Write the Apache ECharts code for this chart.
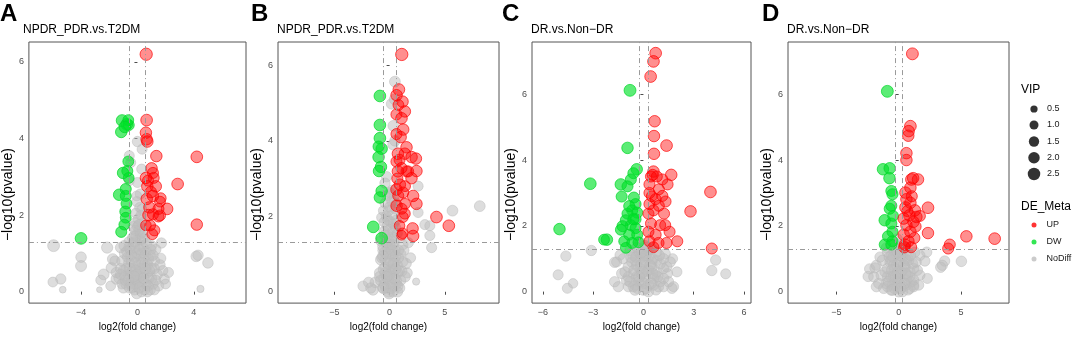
<!DOCTYPE html>
<html>
<head>
<meta charset="utf-8">
<script src="https://cdn.jsdelivr.net/npm/echarts@6/dist/echarts.min.js"></script>
<style>
html, body { margin: 0; padding: 0; background: #fff; }
#chart { width: 1072px; height: 337px; }
</style>
</head>
<body>
<div id="chart"></div>
<script>
// points are [log2FC, -log10(p), VIP]
const upA = [[0.62,6.2,2.4],[0.65,4.48,2.1],[0.6,4.15,2.0],[0.65,3.98,2.0],[0.7,3.92,2.0],[1.34,3.54,2.0],[4.21,3.52,2.1],[2.85,2.81,2.1],[4.21,1.75,2.0],
  [1.0,3.22,2.0],[1.1,3.1,1.8],[0.6,2.97,2.0],[1.15,2.97,1.8],[1.3,2.75,2.0],[0.7,2.75,2.0],[1.1,2.5,2.0],[0.66,2.42,2.0],[1.65,2.44,1.7],
  [0.85,2.2,2.0],[2.1,2.16,2.1],[1.49,2.16,1.8],[1.6,1.99,1.8],[0.78,2.0,2.0],[1.1,2.02,1.8],[1.49,1.96,1.7],[1.2,1.6,1.8],[1.05,1.5,1.7],
  [0.6,1.73,1.6],[0.9,1.73,1.7],[1.6,2.35,1.7],[0.95,2.6,2.0],[0.75,2.9,1.8]];
const dwA = [[-1.09,4.47,2.1],[-0.76,4.37,2.1],[-0.62,4.35,1.8],[-1.15,4.17,2.0],[-0.65,4.48,1.7],[-0.9,4.3,2.0],[-0.65,3.4,1.7],[-0.72,3.15,1.8],
  [-1.02,3.1,2.0],[-0.62,2.97,1.7],[-0.83,2.68,1.8],[-1.3,2.53,2.0],[-0.83,2.5,1.8],[-0.78,2.3,1.7],[-0.86,2.09,1.8],[-0.83,1.93,1.7],
  [-0.93,1.75,1.7],[-1.15,1.56,1.8],[-4.0,1.39,2.1]];
const nsA = [[0,3.92,1.5],[0.33,3.72,1.4],[-0.58,3.55,1.4],[-0.48,3.37,1.4],[0.3,3.2,1.4],[-0.58,2.9,1.4],[0,2.85,1.4],[0.2,2.55,1.4],
  [-0.05,2.35,1.4],[0.3,2.15,1.4],[-0.15,1.8,1.4],[0.15,1.62,1.4],[-0.25,1.45,1.4],[0.35,1.37,1.4],
  [-5.95,1.2,2.2],[-4.0,0.9,1.6],[-4.0,0.67,1.8],[-2.15,1.15,1.9],[-2.4,0.45,1.7],[-2.6,0.3,1.4],[-5.44,0.33,1.5],[-6.0,0.25,1.3],
  [-5.3,0.05,0.4],[-2.7,0.05,0.2],[-1.75,0.85,1.7],[-1.85,0.62,1.6],[-1.5,0.33,1.6],[1.7,1.27,1.5],[1.65,0.87,1.5],[1.9,0.33,1.5],
  [2.2,0.5,1.4],[4.17,0.92,1.6],[4.3,0.95,1.5],[5.0,0.75,1.6],[4.47,0.07,0.5],
  [-0.3,1.25,1.6],[0.2,1.2,1.6],[-0.5,1.1,1.7],[0.6,1.05,1.6],[-0.9,1.0,1.7],[0.9,0.95,1.6],[0,1.0,1.7],[-0.2,0.9,1.6],[0.4,0.85,1.7],
  [-1.1,0.8,1.6],[1.2,0.8,1.6],[-0.6,0.75,1.7],[0.7,0.7,1.7],[0.1,0.7,1.7],[-0.3,0.6,1.6],[1.0,0.6,1.6],[-1.0,0.55,1.6],[0.4,0.5,1.7],
  [-0.6,0.45,1.7],[1.4,0.45,1.6],[0,0.4,1.7],[-1.3,0.35,1.6],[0.8,0.35,1.7],[-0.4,0.3,1.7],[0.3,0.25,1.7],[1.1,0.2,1.6],[-0.8,0.2,1.7],
  [0,0.15,1.7],[-0.2,0.05,1.7],[0.5,0.05,1.7],[-1.0,0.1,1.6],[0.9,0.05,1.6],[1.5,0.15,1.5],[-1.5,0.5,1.5],[1.6,0.7,1.5],[-0.1,1.45,1.5],
  [0.1,1.6,1.5],[0.05,1.9,1.4],[-0.1,2.05,1.4],[0.2,1.35,1.5],[-0.6,1.3,1.5],[0.5,1.4,1.4],[-0.3,1.7,1.4],[0.3,1.8,1.4],[-0.8,0.6,1.6],
  [1.3,1.1,1.5],[-1.2,1.15,1.5],[0.2,0.4,1.7],[-0.2,0.2,1.7],
  [-0.5,0.2,1.5],[0.6,0.2,1.5],[-0.1,0.3,1.6],[0.7,0.5,1.6],[-0.9,0.4,1.5],[1.2,0.6,1.5],[-0.4,0.5,1.6],[0.2,0.6,1.6],[-0.7,0.9,1.5],
  [0.5,0.7,1.6],[0.3,1.0,1.6],[-0.4,0.8,1.6],[0.8,0.85,1.5],[-0.1,0.55,1.7],[1.0,0.35,1.5],[-1.2,0.6,1.5],[0.1,0.95,1.6],[-0.6,1.15,1.5],
  [0.4,1.15,1.5],[1.0,1.2,1.4],[-0.2,1.15,1.6],[0.05,0.25,1.7],[-0.35,0.1,1.6],[0.3,0.0,1.6],[0.75,0.15,1.5],[-0.65,0.3,1.6],[1.3,0.3,1.4],
  [-1.1,0.2,1.4],[0.2,1.5,1.4],[-0.2,1.3,1.5],[0.0,1.7,1.4],[0.15,2.2,1.3],[-0.05,2.5,1.3],[0.25,2.0,1.3],[1.8,0.55,1.4],[-1.6,0.8,1.4],
  [2.0,0.2,1.3],[-1.9,0.15,1.3],
  [-0.75,1.05,1.6],[0.15,1.1,1.6],[0.55,0.95,1.6],[-0.45,0.95,1.6],[0.95,1.1,1.5],[-0.15,0.75,1.7],[0.35,0.75,1.7],[-0.55,0.6,1.7],
  [0.85,0.55,1.6],[-0.05,0.45,1.7],[0.55,0.6,1.7],[-0.85,0.3,1.6],[0.45,0.35,1.7],[-0.25,0.4,1.7],[0.15,0.1,1.7],[-0.55,0.1,1.7],
  [0.7,0.0,1.6],[-0.05,-0.05,1.6],[1.2,0.05,1.5],[-1.2,0.45,1.5],[1.1,0.95,1.5],[-0.95,1.2,1.5],[0.65,1.25,1.5],[-0.35,1.4,1.5],
  [0.35,1.55,1.4],[-0.15,1.6,1.4],[0.1,1.75,1.4]];

const upB = [[1.1,6.29,2.4],[0.84,5.36,2.1],[0.63,5.21,2.0],[1.17,5.04,2.0],[1.38,4.78,2.0],[0.62,4.7,1.8],[1.08,4.6,2.0],[1.23,4.3,2.0],
  [0.62,4.18,1.8],[1.0,4.1,2.0],[1.53,3.83,2.0],[1.99,3.57,2.0],[1.38,3.66,2.0],[0.75,3.66,2.0],[0.62,3.45,1.8],[2.38,3.53,2.0],
  [0.75,3.19,2.0],[1.08,3.28,1.8],[1.68,3.19,1.8],[2.43,3.2,2.0],[1.53,3.19,1.8],[1.98,3.01,2.0],[0.93,2.84,2.0],[0.62,2.71,2.0],
  [1.4,2.8,1.7],[1.23,2.63,1.8],[0.78,2.55,1.8],[2.13,2.54,2.0],[2.43,2.33,2.0],[0.63,2.28,2.0],[1.1,2.2,1.7],[1.4,2.33,1.7],
  [1.38,2.07,1.7],[4.24,1.98,2.1],[5.36,1.75,2.1],[2.08,1.68,2.0],[2.13,1.48,2.0],[1.08,1.5,1.3],[1.17,1.55,1.6],[1.2,1.98,1.7],
  [0.9,1.75,1.6],[0.7,3.0,1.8],[0.9,3.5,1.8],[0.8,4.95,1.7]];
const dwB = [[-0.88,5.19,2.1],[-0.88,4.42,2.1],[-0.88,4.07,2.1],[-0.72,3.79,2.0],[-1.0,3.85,1.8],[-1.0,3.57,2.0],[-0.78,3.31,2.0],
  [-0.96,3.2,2.0],[-0.72,2.67,2.0],[-0.88,2.5,2.0],[-1.48,1.72,2.1],[-0.72,1.42,2.1]];
const nsB = [[0.48,5.57,1.7],[0.18,4.98,1.6],[0.33,4.4,1.6],[0.48,4.0,1.6],[0.45,5.1,1.6],[0.3,3.9,1.5],[-0.27,3.05,1.5],[-0.42,2.88,1.5],
  [0.03,2.63,1.5],[2.58,2.8,1.4],[2.58,2.1,1.4],[3.19,1.78,1.4],[3.64,1.75,1.4],[3.64,1.49,1.4],[3.8,1.17,1.4],[5.69,2.15,1.7],
  [8.16,2.27,1.7],[-0.72,1.97,1.4],[-0.57,2.15,1.3],
  [-0.6,1.2,1.6],[0,1.25,1.6],[0.5,1.1,1.6],[-0.3,1.0,1.7],[0.3,0.95,1.7],[1.0,1.0,1.6],[-0.8,0.85,1.6],[0.1,0.8,1.7],[0.7,0.7,1.7],
  [-0.4,0.65,1.7],[0.3,0.55,1.7],[-0.9,0.5,1.6],[1.1,0.55,1.6],[0,0.4,1.7],[-0.5,0.35,1.7],[0.6,0.3,1.7],[-1.3,0.25,1.6],[0.2,0.15,1.7],
  [-0.6,0.1,1.7],[0.9,0.1,1.6],[-0.1,0,1.7],[-1.5,0.05,1.6],[1.4,0.4,1.6],[1.5,0.75,1.5],[-0.2,1.5,1.6],[0.3,1.6,1.6],[0.1,1.85,1.6],
  [-0.3,2.0,1.5],[0.5,2.2,1.5],[0.2,2.4,1.5],[-0.4,2.35,1.5],[0.1,2.6,1.5],[0.4,1.4,1.5],[-0.8,1.35,1.5],[1.2,1.25,1.5],[1.7,1.3,1.4],
  [1.9,0.9,1.4],[-2.4,0.15,1.5],[-1.9,0.25,1.5],[-1.7,0.1,1.5],[2.4,0.27,0.5],[-0.2,1.75,1.6],[0.6,1.9,1.4],[-0.5,1.6,1.5],
  [-0.5,0.2,1.5],[0.6,0.2,1.5],[-0.1,0.3,1.6],[0.7,0.5,1.6],[-0.9,0.4,1.5],[1.2,0.8,1.5],[-0.4,0.5,1.6],[0.2,0.6,1.6],[-0.7,0.9,1.5],
  [0.5,0.8,1.6],[0.3,1.1,1.6],[-0.4,0.85,1.6],[0.8,0.9,1.5],[-0.1,0.55,1.7],[1.0,0.3,1.5],[0.1,1.0,1.6],[-0.6,1.1,1.5],[0.4,1.3,1.5],
  [-0.2,1.2,1.6],[0.05,0.25,1.7],[-0.35,0.1,1.6],[0.3,0.0,1.6],[0.75,0.15,1.5],[0.2,1.45,1.5],[-0.1,1.35,1.5],[0.0,1.65,1.5],
  [0.35,1.8,1.5],[-0.15,1.9,1.5],[0.3,2.05,1.5],[0.0,2.25,1.4],[0.4,2.5,1.4],[-0.2,2.55,1.4],[0.7,1.55,1.4],[-0.5,1.85,1.4],
  [1.3,1.1,1.4],[1.6,0.5,1.4],
  [-0.45,1.05,1.6],[0.15,1.1,1.6],[0.55,0.95,1.6],[-0.6,0.95,1.6],[0.8,1.1,1.5],[-0.15,0.75,1.7],[0.35,0.75,1.7],[-0.55,0.6,1.7],
  [0.85,0.55,1.6],[-0.05,0.45,1.7],[0.55,0.6,1.7],[-0.8,0.3,1.6],[0.45,0.35,1.7],[-0.25,0.4,1.7],[0.15,0.1,1.7],[-0.55,0.1,1.7],
  [0.7,0.0,1.6],[-0.05,-0.05,1.6],[-0.3,1.3,1.5],[0.25,1.25,1.5],[-0.45,1.5,1.5],[0.55,1.7,1.4],[-0.1,2.15,1.4],[0.25,2.7,1.3],
  [0.6,2.35,1.3]];

const upC = [[0.73,7.25,2.1],[0.6,7.0,2.1],[0.43,6.54,2.1],[0.67,5.18,2.0],[0.63,4.73,2.0],[1.38,4.44,2.1],[0.63,4.19,2.0],[0.6,3.65,2.0],
  [1.66,3.55,2.0],[4.0,3.03,2.1],[2.81,2.44,2.0],[4.08,1.31,1.8],[0.45,3.5,1.8],[0.8,3.5,1.8],[1.13,3.41,1.8],[0.36,3.26,1.8],
  [1.44,3.26,1.8],[0.92,3.11,1.8],[0.36,3.0,1.8],[1.13,2.91,1.8],[0.73,2.81,1.8],[0.36,2.66,1.8],[1.32,2.74,1.8],[0.92,2.61,1.8],
  [0.6,2.47,1.8],[0.3,2.37,1.8],[1.23,2.37,1.8],[0.45,2.07,1.8],[1.0,2.02,1.8],[0.3,1.82,1.8],[1.56,1.82,1.8],[0.73,1.73,1.8],
  [2.02,1.53,1.8],[1.38,1.48,1.8],[0.36,1.53,1.8],[0.9,1.48,1.8],[1.3,2.02,1.8],[0.55,3.55,1.8],[0.5,2.9,1.7],[0.6,1.35,1.7]];
const dwC = [[-0.8,6.12,2.2],[-0.95,4.37,2.0],[-3.17,3.28,2.1],[-5.01,1.9,2.0],[-2.18,1.58,2.0],[-2.35,1.58,1.7],[-0.4,3.72,2.0],
  [-0.6,3.6,1.8],[-0.75,3.41,1.8],[-1.35,3.26,2.0],[-0.95,3.2,1.8],[-1.3,2.89,1.8],[-0.57,2.86,1.8],[-0.47,2.66,1.8],[-0.67,2.47,1.8],
  [-0.37,2.4,1.8],[-0.95,2.37,1.8],[-1.05,2.17,1.8],[-0.47,2.2,1.8],[-0.75,2.02,1.8],[-1.25,1.99,1.8],[-0.47,1.93,1.8],[-1.35,1.88,1.7],
  [-0.85,1.73,1.8],[-0.37,1.73,1.8],[-1.15,1.53,1.7],[-0.67,1.48,1.8],[-1.05,1.33,1.7],[-0.3,1.5,1.7],[-0.6,2.2,1.8],[-0.85,2.6,1.8]];
const nsC = [[-4.63,1.08,1.5],[-3.11,1.25,1.5],[-5.09,0.51,1.4],[-4.2,0.25,1.2],[-4.54,0.1,1.4],[-1.72,0.89,1.5],[-1.4,1.11,1.4],
  [-1.72,0.3,1.5],[4.31,0.96,1.5],[4.08,0.64,1.5],[4.91,0.54,1.4],[1.74,1.0,1.4],[1.8,0.15,1.4],[1.44,0.55,1.4],
  [-0.8,1.25,1.6],[-0.3,1.2,1.6],[0.2,1.15,1.6],[0.8,1.2,1.5],[1.3,1.15,1.5],[-1.2,1.0,1.5],[-0.5,0.95,1.6],[0,0.9,1.7],[0.5,0.9,1.6],
  [1.0,0.85,1.6],[1.6,0.9,1.5],[-0.9,0.75,1.6],[-0.2,0.7,1.7],[0.3,0.65,1.7],[0.8,0.6,1.6],[-0.6,0.55,1.7],[0.1,0.45,1.7],[0.6,0.4,1.7],
  [1.2,0.4,1.6],[-1.0,0.35,1.6],[-0.3,0.3,1.7],[0.3,0.2,1.7],[0.9,0.15,1.6],[-0.6,0.15,1.6],[0,0.05,1.7],[-1.5,0.15,1.5],[1.7,0.1,1.5],
  [1.5,0.3,1.5],[-1.3,0.55,1.5],[-0.1,1.05,1.7],[0.5,1.3,1.5],[0.1,1.4,1.5],[-0.2,1.5,1.4],[-1.6,0.9,1.4],[2.0,0.6,1.4],
  [-0.5,0.2,1.5],[0.6,0.2,1.5],[-0.1,0.3,1.6],[0.7,0.5,1.6],[-0.9,0.45,1.5],[1.2,0.7,1.5],[-0.4,0.45,1.6],[0.2,0.6,1.6],[-0.7,0.9,1.5],
  [0.5,0.75,1.6],[0.3,1.05,1.6],[-0.4,0.8,1.6],[0.8,0.95,1.5],[-0.1,0.55,1.7],[1.0,0.3,1.5],[0.1,0.95,1.6],[-0.6,1.1,1.5],[0.3,1.25,1.5],
  [-0.2,1.15,1.6],[0.05,0.25,1.7],[-0.35,0.1,1.6],[0.3,0.0,1.6],[0.75,0.05,1.5],[0.0,1.3,1.5],[-0.4,1.35,1.4],[1.2,1.0,1.5],
  [-1.1,0.6,1.5],[1.4,0.75,1.5],[-0.9,0.15,1.5],[1.2,0.15,1.5],
  [-0.75,1.05,1.6],[0.15,1.1,1.6],[0.55,1.0,1.6],[-0.45,1.05,1.6],[0.95,1.1,1.5],[-0.15,0.8,1.7],[0.4,0.8,1.7],[-0.55,0.65,1.7],
  [0.85,0.45,1.6],[-0.05,0.6,1.7],[0.55,0.55,1.7],[-0.8,0.3,1.6],[0.45,0.25,1.7],[-0.25,0.45,1.7],[0.15,0.1,1.7],[-0.5,0.05,1.7],
  [-0.1,1.2,1.6],[0.25,1.35,1.5]];

const upD = [[1.1,7.23,2.2],[0.94,5.03,2.1],[0.8,4.88,2.0],[0.77,4.74,2.0],[0.62,4.21,2.0],[0.62,4.0,2.0],[1.02,3.41,2.1],[1.55,3.41,2.0],
  [1.16,3.45,2.0],[0.94,3.16,2.0],[0.54,3.01,2.0],[0.62,2.81,2.0],[0.94,2.7,2.0],[0.54,2.56,2.0],[1.3,2.47,2.0],[2.35,2.55,2.1],
  [0.86,2.32,2.0],[1.42,2.27,2.0],[1.7,2.3,1.8],[0.4,2.22,2.0],[1.18,2.12,2.0],[0.62,2.02,2.0],[1.34,1.98,2.0],[0.94,1.82,2.0],
  [2.35,1.78,2.0],[0.4,1.73,2.0],[1.26,1.63,1.8],[0.78,1.53,2.0],[0.5,1.43,2.0],[5.43,1.68,2.0],[7.7,1.61,2.1],[4.1,1.43,1.8],
  [3.97,1.31,1.8],[1.0,1.35,1.8],[0.45,1.35,2.0],[0.7,2.45,1.8],[1.05,2.9,1.8]];
const dwD = [[-0.91,6.09,2.2],[-1.26,3.72,2.0],[-0.72,3.75,2.0],[-0.74,3.45,2.0],[-0.59,3.06,1.8],[-0.5,2.96,1.8],[-0.59,2.61,1.8],
  [-0.72,2.52,1.8],[-1.12,2.17,2.0],[-0.59,2.07,1.8],[-0.5,1.82,1.8],[-0.86,1.68,1.8],[-0.5,1.53,1.8],[-1.12,1.43,1.8],[-0.59,1.43,1.8],
  [-0.45,2.3,1.7]];
const nsD = [[-2.33,0.69,1.5],[-1.9,0.72,1.5],[-2.45,0.46,1.5],[-1.79,0.15,1.5],[5.03,0.92,1.6],[3.69,0.93,1.5],[3.5,0.8,1.5],
  [3.37,0.74,1.5],[2.25,1.2,1.5],[1.7,1.1,1.5],[2.1,0.93,1.5],[1.7,0.5,1.5],[1.2,0.2,1.5],[-0.99,1.33,1.5],[-1.5,1.05,1.5],
  [-0.9,1.2,1.6],[-0.4,1.25,1.6],[0.2,1.2,1.6],[0.8,1.15,1.6],[1.3,1.2,1.5],[-1.3,0.95,1.6],[-0.6,0.95,1.7],[0,0.9,1.7],[0.6,0.95,1.7],
  [1.1,0.85,1.6],[-0.9,0.7,1.7],[-0.3,0.7,1.7],[0.3,0.65,1.7],[0.9,0.6,1.6],[1.5,0.65,1.5],[-1.4,0.5,1.6],[-0.6,0.45,1.7],[0,0.4,1.7],
  [0.6,0.35,1.7],[1.2,0.35,1.6],[-1.0,0.25,1.6],[-0.3,0.2,1.7],[0.3,0.15,1.7],[0.9,0.1,1.6],[-0.6,0.05,1.7],[0,0,1.7],[-1.6,0.25,1.5],
  [1.6,0.2,1.5],[-2.0,0.45,1.5],[-1.2,0.1,1.6],[0.5,1.35,1.5],[-0.2,1.45,1.5],[-0.1,1.6,1.4],[2.3,0.4,1.4],
  [-0.5,0.2,1.5],[0.6,0.2,1.5],[-0.1,0.3,1.6],[0.7,0.5,1.6],[-0.9,0.45,1.5],[1.2,0.7,1.5],[-0.4,0.45,1.6],[0.2,0.6,1.6],[-0.7,0.9,1.5],
  [0.5,0.75,1.6],[0.3,1.05,1.6],[-0.4,0.8,1.6],[0.8,0.95,1.5],[-0.1,0.55,1.7],[1.0,0.3,1.5],[0.1,0.95,1.6],[-0.6,1.1,1.5],[0.3,1.25,1.5],
  [-0.2,1.15,1.6],[0.05,0.25,1.7],[-0.35,0.1,1.6],[0.3,0.0,1.6],[0.75,0.05,1.5],[0.0,1.3,1.5],[-1.1,0.6,1.5],[1.4,0.9,1.5],
  [-1.8,0.8,1.4],[-0.9,0.15,1.5],[1.2,0.15,1.5],
  [-0.75,1.05,1.6],[0.15,1.1,1.6],[0.55,1.0,1.6],[-0.45,1.05,1.6],[0.95,1.1,1.5],[-0.15,0.8,1.7],[0.4,0.8,1.7],[-0.55,0.65,1.7],
  [0.85,0.45,1.6],[-0.05,0.6,1.7],[0.55,0.55,1.7],[-0.8,0.3,1.6],[0.45,0.25,1.7],[-0.25,0.45,1.7],[0.15,0.1,1.7],[-0.5,0.05,1.7],
  [-0.1,1.2,1.6],[0.25,1.35,1.5]];

const panelLetters = ['A', 'B', 'C', 'D'];
const panelTitles = ['NPDR_PDR.vs.T2DM', 'NPDR_PDR.vs.T2DM', 'DR.vs.Non\u2212DR', 'DR.vs.Non\u2212DR'];
const xTicks = [[-4, 0, 4], [-5, 0, 5], [-6, -3, 0, 3, 6], [-5, 0, 5]];
const yTicks = [[0, 2, 4, 6], [0, 2, 4, 6], [0, 2, 4, 6], [0, 2, 4, 6]];
const fcCut = [0.585, 0.585, 0.263, 0.263];
const pCut = 1.3;
const vipLevels = ['0.5', '1.0', '1.5', '2.0', '2.5'];

const ups = [upA, upB, upC, upD];
const dws = [dwA, dwB, dwC, dwD];
const nss = [nsA, nsB, nsC, nsD];

// layout
const xRange = [[-7.7, 7.7], [-10.1, 9.9], [-6.65, 6.42], [-8.88, 8.85]];
const yRange = [[-0.3, 6.52], [-0.3, 6.62], [-0.35, 7.59], [-0.35, 7.59]];
const gridLeft = [24, 278, 532, 788];
const gridWidth = [222, 221, 219, 221];
const yNameGap = [0, 0, 3, 3];

const FONT = '"Liberation Sans", Arial, sans-serif';
const vipSize = v => 3 + 6 * Math.sqrt(v);
const minus = v => String(v).replace('-', '\u2212');

const styles = {
  UP: { color: 'rgba(255,0,0,0.55)', borderColor: 'rgba(255,0,0,0.85)', borderWidth: 1 },
  DW: { color: 'rgba(0,225,40,0.8)', borderColor: 'rgba(0,215,40,0.9)', borderWidth: 1 },
  NoDiff: { color: 'rgba(190,190,190,0.65)', borderColor: 'rgba(185,185,185,0.75)', borderWidth: 0.8 }
};

const chart = echarts.init(document.getElementById('chart'), null, { renderer: 'canvas' });

const grid = [], xAxis = [], yAxis = [], series = [], title = [];
for (let i = 0; i < 4; i++) {
  grid.push({ left: gridLeft[i], width: gridWidth[i], top: 42, height: 268, show: true,
    borderColor: '#555', borderWidth: 1, backgroundColor: 'transparent' });
  xAxis.push({
    gridIndex: i, type: 'value', min: xRange[i][0], max: xRange[i][1],
    name: 'log2(fold change)', nameLocation: 'middle', nameGap: 14,
    nameTextStyle: { fontFamily: FONT, fontSize: 10, color: '#000' },
    axisLine: { show: false }, splitLine: { show: false },
    axisTick: { show: true, inside: false, length: 3, customValues: xTicks[i], lineStyle: { color: '#4d4d4d' } },
    axisLabel: { customValues: xTicks[i], formatter: minus, fontFamily: FONT, fontSize: 9, color: '#4d4d4d', margin: 5 }
  });
  yAxis.push({
    gridIndex: i, type: 'value', min: yRange[i][0], max: yRange[i][1],
    name: '\u2212log10(pvalue)', nameLocation: 'middle', nameGap: yNameGap[i], nameRotate: 90,
    nameTextStyle: { fontFamily: FONT, fontSize: 14, color: '#000', padding: [0, 44, 0, 0] },
    axisLine: { show: false }, splitLine: { show: false },
    axisTick: { show: true, inside: false, length: 3, customValues: yTicks[i], lineStyle: { color: '#4d4d4d' } },
    axisLabel: { customValues: yTicks[i], formatter: minus, fontFamily: FONT, fontSize: 9, color: '#4d4d4d', margin: 5 }
  });
  title.push({ text: panelLetters[i], left: [0, 251, 502, 762][i], top: 2,
    textStyle: { fontFamily: FONT, fontSize: 24, fontWeight: 'bold', color: '#000' } });
  title.push({ text: panelTitles[i], left: gridLeft[i] - 1, top: 24,
    textStyle: { fontFamily: FONT, fontSize: 12, fontWeight: 'normal', color: '#000' } });

  const sets = { NoDiff: nss[i], DW: dws[i], UP: ups[i] };
  ['NoDiff', 'DW', 'UP'].forEach(g => {
    const s = {
      name: g, type: 'scatter', xAxisIndex: i, yAxisIndex: i,
      data: sets[g], symbol: 'circle', symbolSize: d => vipSize(d[2]),
      itemStyle: styles[g], emphasis: { disabled: true }
    };
    if (g === 'NoDiff') {
      s.markLine = {
        silent: true, symbol: 'none', label: { show: false },
        lineStyle: { color: '#9a9a9a', width: 1, type: [5, 3, 1, 3] },
        data: [{ yAxis: pCut }, { xAxis: -fcCut[i] }, { xAxis: fcCut[i] }]
      };
    }
    series.push(s);
  });
}

// VIP size key: empty series that only feed the legend
const legend = [];
const vipCenters = [109, 125, 141.5, 157.7, 174];
vipLevels.forEach((v, k) => {
  series.push({ name: v, type: 'scatter', xAxisIndex: 0, yAxisIndex: 0, data: [], itemStyle: { color: '#000' } });
  const d = vipSize(+v);
  const h = Math.max(d, 12);
  legend.push({
    data: [{ name: v, icon: 'circle', itemStyle: { color: '#000' } }], selectedMode: false,
    left: 1034 - d / 2, top: vipCenters[k] - h / 2, padding: 0,
    itemWidth: d, itemHeight: d,
    textStyle: { fontFamily: FONT, fontSize: 9, color: '#1a1a1a', lineHeight: 12, padding: [0, 0, 0, 8 - d / 2] }
  });
});
legend.push({
  data: [
    { name: 'UP', icon: 'circle', itemStyle: { color: '#ff0000', borderWidth: 0 } },
    { name: 'DW', icon: 'circle', itemStyle: { color: '#00e028', borderWidth: 0 } },
    { name: 'NoDiff', icon: 'circle', itemStyle: { color: '#bebebe', borderWidth: 0 } }
  ],
  selectedMode: false, orient: 'vertical', left: 1031.5, top: 219, padding: 0, itemGap: 5,
  itemWidth: 5, itemHeight: 5,
  textStyle: { fontFamily: FONT, fontSize: 9, color: '#1a1a1a', lineHeight: 12, padding: [0, 0, 0, 5] }
});
title.push({ text: 'VIP', left: 1021, top: 84, textStyle: { fontFamily: FONT, fontSize: 12, fontWeight: 'normal', color: '#000' } });
title.push({ text: 'DE_Meta', left: 1021, top: 201, textStyle: { fontFamily: FONT, fontSize: 12, fontWeight: 'normal', color: '#000' } });
title.forEach(t => { t.padding = 0; });

chart.setOption({
  animation: false,
  backgroundColor: '#fff',
  title, grid, xAxis, yAxis, legend, series
});
</script>
</body>
</html>
